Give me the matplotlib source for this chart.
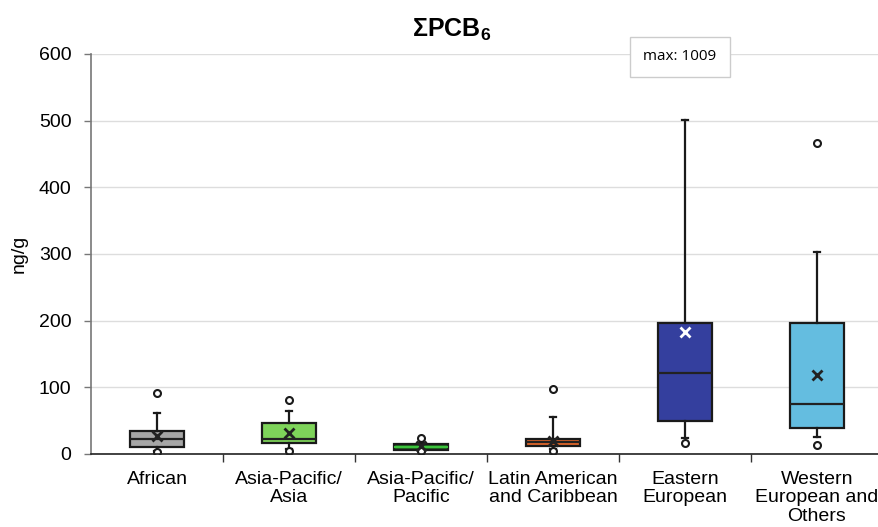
import matplotlib
matplotlib.use("Agg")
import matplotlib.pyplot as plt

plt.rcParams['font.family'] = ['Liberation Sans', 'DejaVu Sans']
plt.rcParams['mathtext.fontset'] = 'custom'
plt.rcParams['mathtext.rm'] = 'Liberation Sans'
plt.rcParams['mathtext.bf'] = 'Liberation Sans:bold'

# data (ng/g)
regions = ['African', 'Asia-Pacific/\nAsia', 'Asia-Pacific/\nPacific',
           'Latin American\nand Caribbean', 'Eastern\nEuropean', 'Western\nEuropean and\nOthers']
q1 = [10.5, 17, 6, 11.5, 49, 38.5]
med = [23, 23, 10, 18, 121.5, 75.5]
q3 = [34.5, 46, 15, 22.5, 196.5, 196.5]
whislo = [5, 8, 5, 7, 24, 25]
whishi = [61.5, 64, 17, 56, 501, 303]
means = [27, 31, 12, 20, 183, 119]
fliers = [[91, 2.5], [80.5, 4.5], [24, 4], [97.5, 4], [16.5], [466, 13]]
colors = ['#a6a6a6', '#7ed45a', '#1d5e1d', '#e0662a', '#343f9e', '#64bde0']
median_colors = ['#222222', '#222222', '#3cc23c', '#222222', '#222222', '#222222']
mean_colors = ['#222222', '#222222', '#222222', '#222222', 'white', '#222222']

stats = []
for i in range(len(regions)):
    stats.append(dict(q1=q1[i], med=med[i], q3=q3[i], whislo=whislo[i],
                      whishi=whishi[i], mean=means[i], fliers=fliers[i], label=regions[i]))

fig = plt.figure(figsize=(8.79, 5.27), dpi=100)
ax = fig.add_axes([91 / 879, 73 / 527, 792 / 879, 400 / 527])

bp = ax.bxp(stats, positions=range(len(regions)), widths=0.41, patch_artist=True,
            showmeans=False, showfliers=True,
            boxprops=dict(linewidth=1.6, edgecolor='#1a1a1a'),
            whiskerprops=dict(linewidth=1.6, color='#1a1a1a'),
            capprops=dict(linewidth=1.6, color='#1a1a1a'),
            capwidths=0.05,
            flierprops=dict(marker='o', markersize=5, markerfacecolor='white',
                            markeredgecolor='#1a1a1a', markeredgewidth=1.5))
for patch, c in zip(bp['boxes'], colors):
    patch.set_facecolor(c)
for line, c in zip(bp['medians'], median_colors):
    line.set_color(c)
    line.set_linewidth(1.6)
for i, (m, c) in enumerate(zip(means, mean_colors)):
    ax.plot(i, m, marker='x', markersize=7, markeredgewidth=2, color=c, zorder=5)

ax.set_xlim(-0.5, len(regions) - 0.5)
ax.set_ylim(0, 600)
ax.set_yticks(range(0, 700, 100))
ax.yaxis.grid(True, color='#dddddd', linewidth=1)
ax.set_axisbelow(True)
ax.set_xticks(range(len(regions)))
ax.set_xticklabels(regions, fontsize=14, va='top', linespacing=1.12)
ax.tick_params(axis='x', length=0, pad=12)
ax.set_xticks([i + 0.5 for i in range(len(regions) - 1)], minor=True)
ax.tick_params(axis='x', which='minor', length=6, width=1, color='#333333', direction='out')
ax.tick_params(axis='y', labelsize=14, length=5, width=1, color='#777777', direction='out', pad=9)
ax.set_ylabel('ng/g', fontsize=14, labelpad=8)

for s in ['top', 'right']:
    ax.spines[s].set_visible(False)
ax.spines['left'].set_color('#777777')
ax.spines['left'].set_linewidth(1.2)
ax.spines['bottom'].set_color('#222222')
ax.spines['bottom'].set_linewidth(1.2)

fig.text(452 / 879, 1 - 30 / 527, r'$\mathbf{\Sigma PCB_6}$', fontsize=18,
         ha='center', va='center')
ax.text(680 / 879, 1 - 57 / 527, 'max: 1009', transform=fig.transFigure, fontsize=11,
        family=['Open Sans', 'DejaVu Sans'], ha='center', va='center',
        bbox=dict(boxstyle='square,pad=0.85', facecolor='white', edgecolor='#cccccc'))

fig.savefig('out.png', dpi=100)
